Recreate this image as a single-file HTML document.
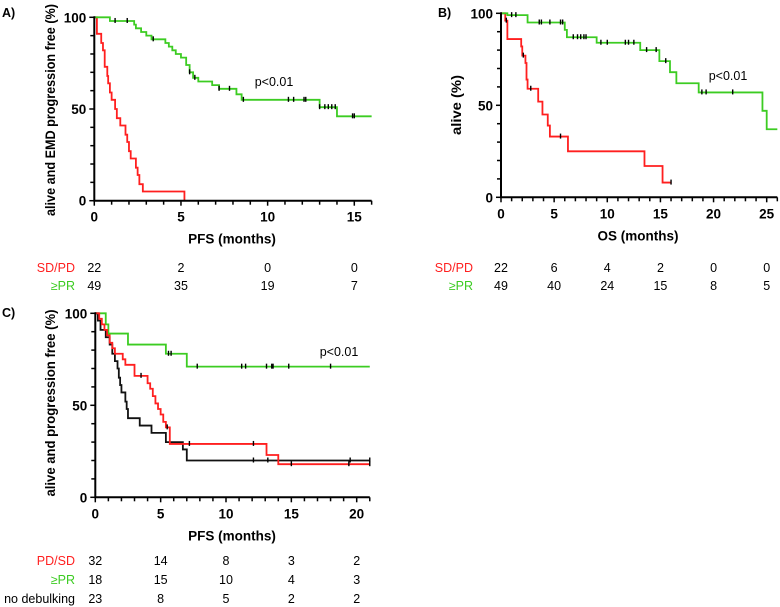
<!DOCTYPE html>
<html><head><meta charset="utf-8">
<style>
html,body{margin:0;padding:0;background:#fff;}
svg{display:block;font-family:"Liberation Sans",Arial,sans-serif;}
.tk{font-weight:bold;font-size:13.5px;}
.at{font-weight:bold;font-size:13.5px;}
.rk{font-size:12.5px;}
.pl{font-weight:bold;font-size:12.5px;}
</style></head>
<body>
<svg id="fig" width="780" height="607" viewBox="0 0 780 607" xmlns="http://www.w3.org/2000/svg"></svg>
<script>
// ---------- data ----------
var A_red_t = [0,0.15,0.4,0.5,0.6,0.75,0.8,0.9,1.0,1.2,1.3,1.5,1.8,1.9,2.0,2.1,2.4,2.5,2.6,2.8,5.2];
var A_red_s = [100,91,86,82,73,68,64,59,55,50,45,41,36,32,27,23,18,14,9,5,0];
var A_red_end = 5.2;
var A_red_c = [];
var A_grn_t = [0,0.9,2.3,2.4,2.7,3.0,3.3,4.1,4.3,4.5,4.7,5.0,5.3,5.5,5.7,6.0,6.8,7.2,8.2,8.5,13.0,14.0];
var A_grn_s = [100,98,96,94,92,90,88,86,84,82,80,78,74,70,67,65,63,61,58,55,51,46];
var A_grn_end = 16;
var A_grn_c = [1.2,1.9,3.4,5.5,5.8,7.2,7.8,8.6,11.2,11.5,12.1,12.2,13.0,13.3,13.5,13.7,13.9,14.9,15.0];

var B_red_t = [0,0.4,0.6,1.9,2.0,2.3,2.4,2.5,3.5,3.9,4.4,4.6,6.3,13.5,15.2];
var B_red_s = [100,96,86,82,77,73,64,59,52,45,39,33,25,17,8];
var B_red_end = 16;
var B_red_c = [0.5,2.1,2.8,5.6,16];
var B_grn_t = [0,0.6,2.5,6.0,6.2,9.0,13.1,14.9,15.9,16.5,18.6,24.6,25.0];
var B_grn_s = [100,99,95,91,87,84,80,74,68,62,57,47,37];
var B_grn_end = 26;
var B_grn_c = [1.0,1.4,3.6,3.8,4.6,5.6,5.8,6.8,7.2,7.5,7.8,8.0,9.4,10.0,11.7,12.0,12.5,13.7,14.6,15.5,18.9,19.3,21.8];

var C_grn_t = [0,0.8,1.0,2.5,5.4,7.0];
var C_grn_s = [100,94,89,83,78,71];
var C_grn_end = 21;
var C_grn_c = [5.6,5.8,7.8,11.2,11.5,13.1,13.5,13.6,14.8,18.0];
var C_red_t = [0,0.3,0.5,0.7,0.9,1.1,1.3,1.5,2.1,2.3,3.0,4.0,4.2,4.4,4.6,4.8,5.0,5.2,5.4,5.7,13.1,14.0];
var C_red_s = [100,97,94,91,88,84,81,78,75,72,66,62,59,55,51,48,45,41,38,29,23,18];
var C_red_end = 21;
var C_red_c = [3.5,5.5,7.2,12.1,15.0,19.4,21];
var C_blk_t = [0,0.2,0.4,0.8,1.1,1.3,1.5,1.7,1.8,1.9,2.0,2.3,2.4,2.5,3.4,4.3,5.4,6.7,7.0];
var C_blk_s = [100,96,91,87,83,78,74,70,65,61,57,52,48,43,39,35,30,26,20];
var C_blk_end = 21;
var C_blk_c = [12.1,13.2,19.5,21];

var A_xticks = [0,5,10,15];
var B_xticks = [0,5,10,15,20,25];
var C_xticks = [0,5,10,15,20];
var y_ticks = [0,50,100];
var A_risk_labels = ["SD/PD","≥PR"];
var A_risk = [[22,2,0,0],[49,35,19,7]];
var B_risk_labels = ["SD/PD","≥PR"];
var B_risk = [[22,6,4,2,0,0],[49,40,24,15,8,5]];
var C_risk_labels = ["PD/SD","≥PR","no debulking"];
var C_risk = [[32,14,8,3,2],[18,15,10,4,3],[23,8,5,2,2]];

// ---------- drawing ----------
var NS="http://www.w3.org/2000/svg";
var svg=document.getElementById('fig');
var RED="#ff1f1f", GRN="#3ccc22", BLK="#111";
function mk(tag,attrs,parent){var e=document.createElementNS(NS,tag);for(var k in attrs)e.setAttribute(k,attrs[k]);(parent||svg).appendChild(e);return e;}
function txt(x,y,s,cls,anchor,fill,parent){var e=mk('text',{x:x,y:y,'class':cls,'text-anchor':anchor||'middle',fill:fill||'#000'},parent);e.textContent=s;return e;}

function panel(cfg){
  var g=mk('g',{});
  
  
  var xs=function(t){return cfg.x0+(t/cfg.xmax)*(cfg.x1-cfg.x0);};
  var ys=function(v){return cfg.y0-(v/100)*(cfg.y0-cfg.y100);};
  cfg.series.forEach(function(s){
    var d="M"+xs(0)+","+ys(s.s[0]);
    for(var i=1;i<s.t.length;i++){d+=" H"+xs(s.t[i])+" V"+ys(s.s[i]);}
    d+=" H"+xs(s.end);
    var p=mk('path',{d:d,fill:'none',stroke:s.col,'stroke-width':1.8},g);
    
    
    s.c.forEach(function(ct){
      var v=s.s[0];for(var i=0;i<s.t.length;i++){if(s.t[i]<=ct)v=s.s[i];}
      var c=mk('line',{x1:xs(ct),x2:xs(ct),y1:ys(v)-3,y2:ys(v)+2,stroke:'#000','stroke-width':1.4},g);
      
      
    });
  });
  var ax=mk('path',{d:"M"+cfg.x0+","+(cfg.y100-1)+" V"+cfg.y0+" H"+(cfg.x1+ (cfg.xend-cfg.xmax)*(cfg.x1-cfg.x0)/cfg.xmax),fill:'none',stroke:'#000','stroke-width':2},g);
  
  
  for(var m=0;m<=cfg.xend;m+=1){
    var maj=cfg.xticks.indexOf(m)>=0;
    mk('line',{x1:xs(m),x2:xs(m),y1:cfg.y0,y2:cfg.y0+(maj?5:4),stroke:'#000','stroke-width':1.5},g);
  }
  for(var v=0;v<=100;v+=10){
    mk('line',{x1:cfg.x0,x2:cfg.x0-(v%50===0?5:4),y1:ys(v),y2:ys(v),stroke:'#000','stroke-width':1.5},g);
  }
  cfg.xticks.forEach(function(t){
    var e=txt(xs(t),cfg.y0+21,String(t),'tk','middle','#000',g);
    
    
  });
  y_ticks.forEach(function(v){
    var e=txt(cfg.x0-8,ys(v)+5,String(v),'tk','end','#000',g);
    
    
  });
  var xt=txt(cfg.xtitleX,cfg.y0+43,cfg.xtitle,'at','middle','#000',g);
  
  
  var yt=txt(0,0,cfg.ytitle,'at','middle','#000',g);
  yt.setAttribute('transform','translate('+cfg.ytitleX+','+cfg.ytitleY+') rotate(-90)');
  yt.setAttribute('textLength',cfg.ytitleLen);
  yt.setAttribute('lengthAdjust','spacingAndGlyphs');
  
  
  var pl=txt(cfg.lblX,cfg.lblY,cfg.label,'pl','start','#000',g);
  
  
  var pv=txt(cfg.pX,cfg.pY,'p<0.01','rk','middle','#000',g);
  
  
  cfg.riskLabels.forEach(function(lb,r){
    var y=cfg.riskY[r];
    var e=txt(cfg.riskLblX,y,lb,'rk','end',cfg.riskCols[r],g);
    
    
    cfg.risk[r].forEach(function(n,i){
      var e2=txt(xs(cfg.xticks[i]),y,String(n),'rk','middle','#000',g);
      
      
    });
  });
}

panel({name:'panel-a-pfs',x0:94.3,x1:354.3,xmax:15,xend:16,y0:200.7,y100:17.3,xticks:A_xticks,
  series:[{name:'sdpd-curve',t:A_red_t,s:A_red_s,end:A_red_end,c:A_red_c,col:RED},
          {name:'pr-curve',t:A_grn_t,s:A_grn_s,end:A_grn_end,c:A_grn_c,col:GRN}],
  xtitle:'PFS (months)',xtitleX:232,ytitle:'alive and EMD progression free  (%)',ytitleX:55,ytitleY:110,ytitleLen:212,
  label:'A)',lblX:2,lblY:17,pX:274,pY:86,
  riskLabels:A_risk_labels,risk:A_risk,riskY:[272,290],riskLblX:75,riskCols:[RED,GRN]});
panel({name:'panel-b-os',x0:501,x1:766.7,xmax:25,xend:26,y0:197.3,y100:13.3,xticks:B_xticks,
  series:[{name:'sdpd-curve',t:B_red_t,s:B_red_s,end:B_red_end,c:B_red_c,col:RED},
          {name:'pr-curve',t:B_grn_t,s:B_grn_s,end:B_grn_end,c:B_grn_c,col:GRN}],
  xtitle:'OS (months)',xtitleX:638,ytitle:'alive (%)',ytitleX:461,ytitleY:105,ytitleLen:60,
  label:'B)',lblX:438,lblY:17,pX:728,pY:80,
  riskLabels:B_risk_labels,risk:B_risk,riskY:[272,290],riskLblX:473,riskCols:[RED,GRN]});
panel({name:'panel-c-pfs',x0:95.3,x1:356.7,xmax:20,xend:21,y0:497.3,y100:313.3,xticks:C_xticks,
  series:[{name:'pr-curve',t:C_grn_t,s:C_grn_s,end:C_grn_end,c:C_grn_c,col:GRN},
          {name:'no-debulking-curve',t:C_blk_t,s:C_blk_s,end:C_blk_end,c:C_blk_c,col:BLK},
          {name:'pdsd-curve',t:C_red_t,s:C_red_s,end:C_red_end,c:C_red_c,col:RED}],
  xtitle:'PFS (months)',xtitleX:232,ytitle:'alive and progression free (%)',ytitleX:55,ytitleY:403,ytitleLen:187,
  label:'C)',lblX:2,lblY:317,pX:339,pY:356,
  riskLabels:C_risk_labels,risk:C_risk,riskY:[565,584,603],riskLblX:75,riskCols:[RED,GRN,'#000']});
</script>
</body></html>
